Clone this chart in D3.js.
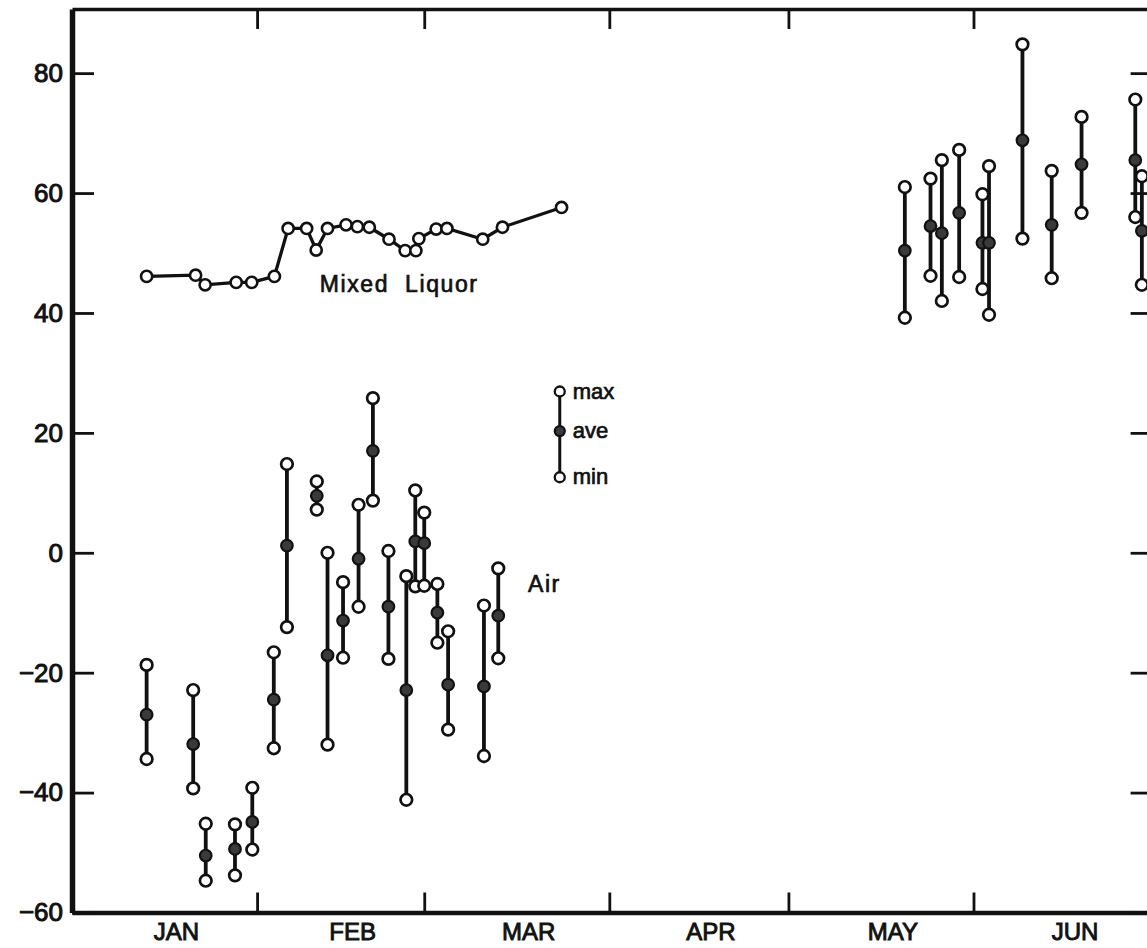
<!DOCTYPE html>
<html>
<head>
<meta charset="utf-8">
<script src="https://cdnjs.cloudflare.com/ajax/libs/d3/7.8.5/d3.min.js"></script>
<style>
body { margin: 0; background: #fff; }
svg { display: block; }
text { font-family: "Liberation Sans", Arial, sans-serif; fill: #111; stroke: #111; stroke-width: 0.7px; }
</style>
</head>
<body>
<div id="chart"></div>
<script>
var months = ["JAN", "FEB", "MAR", "APR", "MAY", "JUN"];
var yTicks = [-60, -40, -20, 0, 20, 40, 60, 80];

// x values are days after Jan 1
var liquorDay  = [12.5, 20.7, 22.3, 27.5, 30.1, 33.9, 36.2, 39.3, 40.9, 42.8, 45.9,
                  47.8, 49.8, 53.1, 55.8, 57.6, 58.1, 61.0, 62.8, 68.8, 72.1, 82.0];
var liquorTemp = [46.1, 46.3, 44.7, 45.1, 45.1, 46.1, 54.1, 54.1, 50.5, 54.1, 54.7,
                  54.4, 54.3, 52.3, 50.4, 50.4, 52.4, 54.0, 54.1, 52.3, 54.3, 57.6];

var airDay = [12.5, 20.3, 22.4, 27.3, 30.2, 33.8, 36.0, 41.0, 42.8, 45.4, 48.0,
              50.4, 53.0, 56.0, 57.5, 59.0, 61.2, 63.0, 69.0, 71.4,
              139.5, 143.8, 145.7, 148.6, 152.5, 153.6, 159.2, 164.1, 169.1, 178.1, 179.2];
var airMax = [-18.7, -22.9, -45.2, -45.3, -39.2, -16.6, 14.8, 11.9, 0.0, -4.9, 8.0,
              25.8, 0.3, -3.9, 10.4, 6.7, -5.2, -13.1, -8.8, -2.6,
              61.0, 62.4, 65.5, 67.2, 59.8, 64.5, 84.8, 63.7, 72.7, 75.6, 62.8];
var airAve = [-27.0, -31.9, -50.5, -49.4, -44.9, -24.5, 1.2, 9.5, -17.1, -11.3, -1.0,
              17.0, -9.0, -22.9, 1.9, 1.6, -10.0, -22.0, -22.3, -10.5,
              50.4, 54.5, 53.3, 56.7, 51.7, 51.7, 68.8, 54.7, 64.8, 65.5, 53.7];
var airMin = [-34.4, -39.3, -54.7, -53.8, -49.5, -32.6, -12.4, 7.2, -32.0, -17.5, -9.0,
              8.7, -17.7, -41.2, -5.6, -5.5, -15.0, -29.5, -33.9, -17.6,
              39.2, 46.2, 42.0, 46.0, 44.0, 39.7, 52.4, 45.8, 56.7, 56.0, 44.7];

// legend sample (max / ave / min)
var keyDay = 81.7;
var keyVals = [26.9, 20.3, 12.6];
var keyText = ["max", "ave", "min"];

var width = 1147, height = 948;
var t0 = Date.UTC(1977, 0, 1);
function toDate(d) { return new Date(t0 + d * 864e5); }

var x = d3.scaleUtc()
  .domain([new Date(t0), new Date(Date.UTC(1977, 6, 1))])
  .range([72, 1152.6]);
var y = d3.scaleLinear().domain([-60, 90.7]).range([912.5, 9]);

var monthStarts = d3.utcMonth.range(new Date(t0), new Date(Date.UTC(1977, 6, 1)));

var svg = d3.select("#chart").append("svg")
  .attr("width", width)
  .attr("height", height);

svg.append("rect").attr("width", width).attr("height", height).attr("fill", "#fff");

// frame + ticks
function styleAxis(g, w) {
  g.select(".domain").attr("stroke", "#111").attr("stroke-width", w);
  g.selectAll(".tick line").attr("stroke", "#111").attr("stroke-width", 2.8);
}

svg.append("g")
  .attr("transform", "translate(0," + y.range()[0] + ")")
  .call(d3.axisBottom(x).tickValues(monthStarts.slice(1)).tickSize(-20).tickSizeOuter(0).tickFormat(""))
  .call(styleAxis, 4.5);

svg.append("g")
  .attr("transform", "translate(0," + y.range()[1] + ")")
  .call(d3.axisTop(x).tickValues(monthStarts.slice(1)).tickSize(-20).tickSizeOuter(0).tickFormat(""))
  .call(styleAxis, 3.5);

svg.append("g")
  .attr("transform", "translate(" + x.range()[1] + ",0)")
  .call(d3.axisLeft(y).tickValues(yTicks).tickSize(22).tickSizeOuter(0).tickFormat(""))
  .call(styleAxis, 4);

var left = svg.append("g")
  .attr("transform", "translate(" + x.range()[0] + ",0)")
  .call(d3.axisLeft(y).tickValues(yTicks).tickSize(-22).tickSizeOuter(0).tickPadding(9))
  .call(styleAxis, 5.5);
left.selectAll(".tick text")
  .attr("fill", "#111")
  .style("font-size", "26px")
  .style("stroke", "#111")
  .style("stroke-width", "1px")
  .style("font-family", "'Liberation Sans', Arial, sans-serif");

// month names under the axis
svg.append("g").selectAll("text")
  .data(monthStarts)
  .enter().append("text")
  .attr("x", function(d) { return (x(d) + x(d3.utcMonth.offset(d, 1))) / 2 + 12; })
  .attr("y", 940)
  .attr("text-anchor", "middle")
  .style("font-size", "24px")
  .style("stroke-width", "0.9px")
  .text(function(d, i) { return months[i]; });

// mixed liquor line
var liquor = liquorDay.map(function(d, i) { return {date: toDate(d), v: liquorTemp[i]}; });

svg.append("path")
  .datum(liquor)
  .attr("fill", "none")
  .attr("stroke", "#111")
  .attr("stroke-width", 3.3)
  .attr("d", d3.line().x(function(d) { return x(d.date); }).y(function(d) { return y(d.v); }));

svg.append("g").selectAll("circle")
  .data(liquor)
  .enter().append("circle")
  .attr("cx", function(d) { return x(d.date); })
  .attr("cy", function(d) { return y(d.v); })
  .attr("r", 5.6)
  .attr("fill", "#fff")
  .attr("stroke", "#111")
  .attr("stroke-width", 2.6);

// air max / ave / min bars
var air = airDay.map(function(d, i) {
  return {date: toDate(d), max: airMax[i], ave: airAve[i], min: airMin[i]};
});

var bars = svg.append("g").selectAll("g")
  .data(air)
  .enter().append("g");

bars.append("line")
  .attr("x1", function(d) { return x(d.date); })
  .attr("x2", function(d) { return x(d.date); })
  .attr("y1", function(d) { return y(d.max); })
  .attr("y2", function(d) { return y(d.min); })
  .attr("stroke", "#111")
  .attr("stroke-width", 3.8);

bars.selectAll("circle.end")
  .data(function(d) { return [{date: d.date, v: d.max}, {date: d.date, v: d.min}]; })
  .enter().append("circle")
  .attr("class", "end")
  .attr("cx", function(d) { return x(d.date); })
  .attr("cy", function(d) { return y(d.v); })
  .attr("r", 5.8)
  .attr("fill", "#fff")
  .attr("stroke", "#111")
  .attr("stroke-width", 2.7);

bars.append("circle")
  .attr("cx", function(d) { return x(d.date); })
  .attr("cy", function(d) { return y(d.ave); })
  .attr("r", 5.8)
  .attr("fill", "#3a3a3a")
  .attr("stroke", "#111")
  .attr("stroke-width", 2.2);

// key
var kx = x(toDate(keyDay));
var key = svg.append("g");
key.append("line")
  .attr("x1", kx).attr("x2", kx)
  .attr("y1", y(keyVals[0])).attr("y2", y(keyVals[2]))
  .attr("stroke", "#111").attr("stroke-width", 3);
key.selectAll("circle")
  .data(keyVals)
  .enter().append("circle")
  .attr("cx", kx)
  .attr("cy", function(d) { return y(d); })
  .attr("r", 5)
  .attr("fill", function(d, i) { return i == 1 ? "#3a3a3a" : "#fff"; })
  .attr("stroke", "#111")
  .attr("stroke-width", 2.3);
key.selectAll("text")
  .data(keyVals)
  .enter().append("text")
  .attr("x", kx + 13)
  .attr("y", function(d) { return y(d) + 7; })
  .style("font-size", "22px")
  .text(function(d, i) { return keyText[i]; });

// series labels
svg.append("text")
  .attr("x", x(toDate(41.5)))
  .attr("y", y(43.5))
  .style("font-size", "23px")
  .style("letter-spacing", "1.6px")
  .attr("xml:space", "preserve")
  .text("Mixed  Liquor");

svg.append("text")
  .attr("x", x(toDate(76.4)))
  .attr("y", y(-6.5))
  .style("font-size", "23px")
  .style("letter-spacing", "1.5px")
  .text("Air");
</script>
</body>
</html>
